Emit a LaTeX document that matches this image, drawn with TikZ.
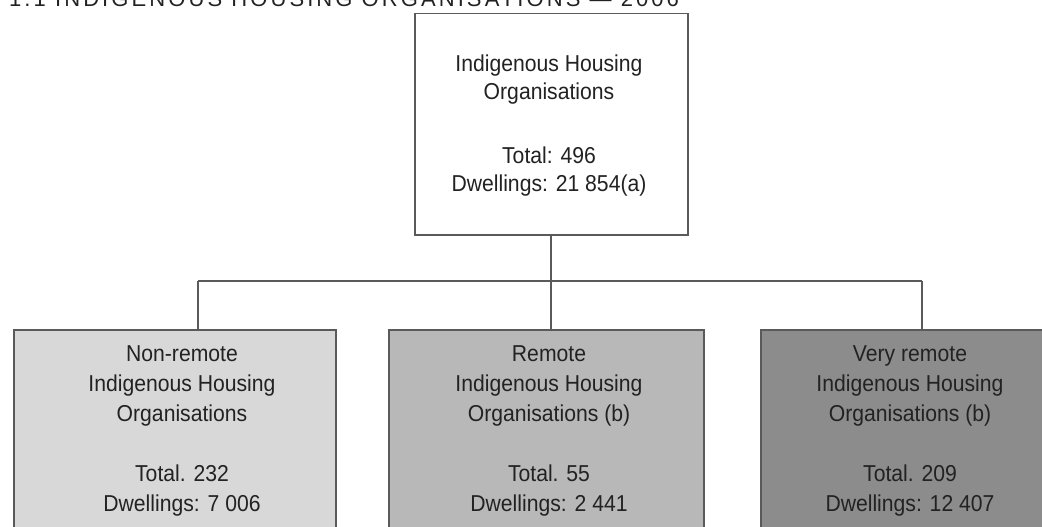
\documentclass[tikz,border=0pt]{standalone}
\usepackage{fontspec}
\setmainfont{Liberation Sans}
\newfontfamily\boxfont[FakeStretch=0.92]{Liberation Sans}
\newfontfamily\titlefont[LetterSpace=14]{Liberation Sans}
\definecolor{txt}{HTML}{222222}
\definecolor{edge}{HTML}{5A5A5A}
\definecolor{fillA}{HTML}{D8D8D8}
\definecolor{fillB}{HTML}{B8B8B8}
\definecolor{fillC}{HTML}{8C8C8C}
\tikzset{
  orgbox/.style={draw=edge, line width=1.5pt, inner sep=0pt, anchor=north west},
  boxtext/.style={text=txt, align=center, inner sep=0pt, font=\boxfont\fontsize{23}{30}\selectfont},
  link/.style={draw=edge, line width=1.5pt}
}
\begin{document}
\begin{tikzpicture}[x=1pt,y=-1pt]
\useasboundingbox (0,0) rectangle (1042,527);
\begin{scope}
\clip (0,0) rectangle (1042,527);
% title (partly cut off at the top, as in the reference)
\node[anchor=base west, inner sep=0pt, text=txt, font=\titlefont\fontsize{22}{26}\selectfont] (title) at (9,7) {1.1 INDIGENOUS HOUSING ORGANISATIONS — 2006};
% top box with faint shadow
\fill[gray!30] (416,15) rectangle (689,236);
\node[orgbox, fill=white, minimum width=273pt, minimum height=221pt] (top) at (414,13) {};
\node[boxtext, font=\boxfont\fontsize{23}{28}\selectfont] (toptext) at (549,126) {Indigenous Housing\\Organisations\\[36pt]Total: 496\\Dwellings: 21 854(a)};
% lower boxes
\node[orgbox, fill=fillA, minimum width=322pt, minimum height=240pt] (left) at (13,329) {};
\node[orgbox, fill=fillB, minimum width=315pt, minimum height=240pt] (mid) at (388,329) {};
\node[orgbox, fill=fillC, minimum width=315pt, minimum height=240pt] (right) at (760,329) {};
\node[boxtext] (lefttext) at (182,431) {Non-remote\\Indigenous Housing\\Organisations\\[30pt]Total. 232\\Dwellings: 7 006};
\node[boxtext] (midtext) at (549,431) {Remote\\Indigenous Housing\\Organisations (b)\\[30pt]Total. 55\\Dwellings: 2 441};
\node[boxtext] (righttext) at (910,431) {Very remote\\Indigenous Housing\\Organisations (b)\\[30pt]Total. 209\\Dwellings: 12 407};
% connectors
\coordinate (jl) at (198,281);
\coordinate (jr) at (922,281);
\coordinate (jm) at (551,281);
\path[link] (jl) -- (jr);
\path[link] (top.south -| jm) -- (jm |- mid.north);
\path[link] (jl) -- (jl |- left.north);
\path[link] (jr) -- (jr |- right.north);
\end{scope}
\end{tikzpicture}
\end{document}
